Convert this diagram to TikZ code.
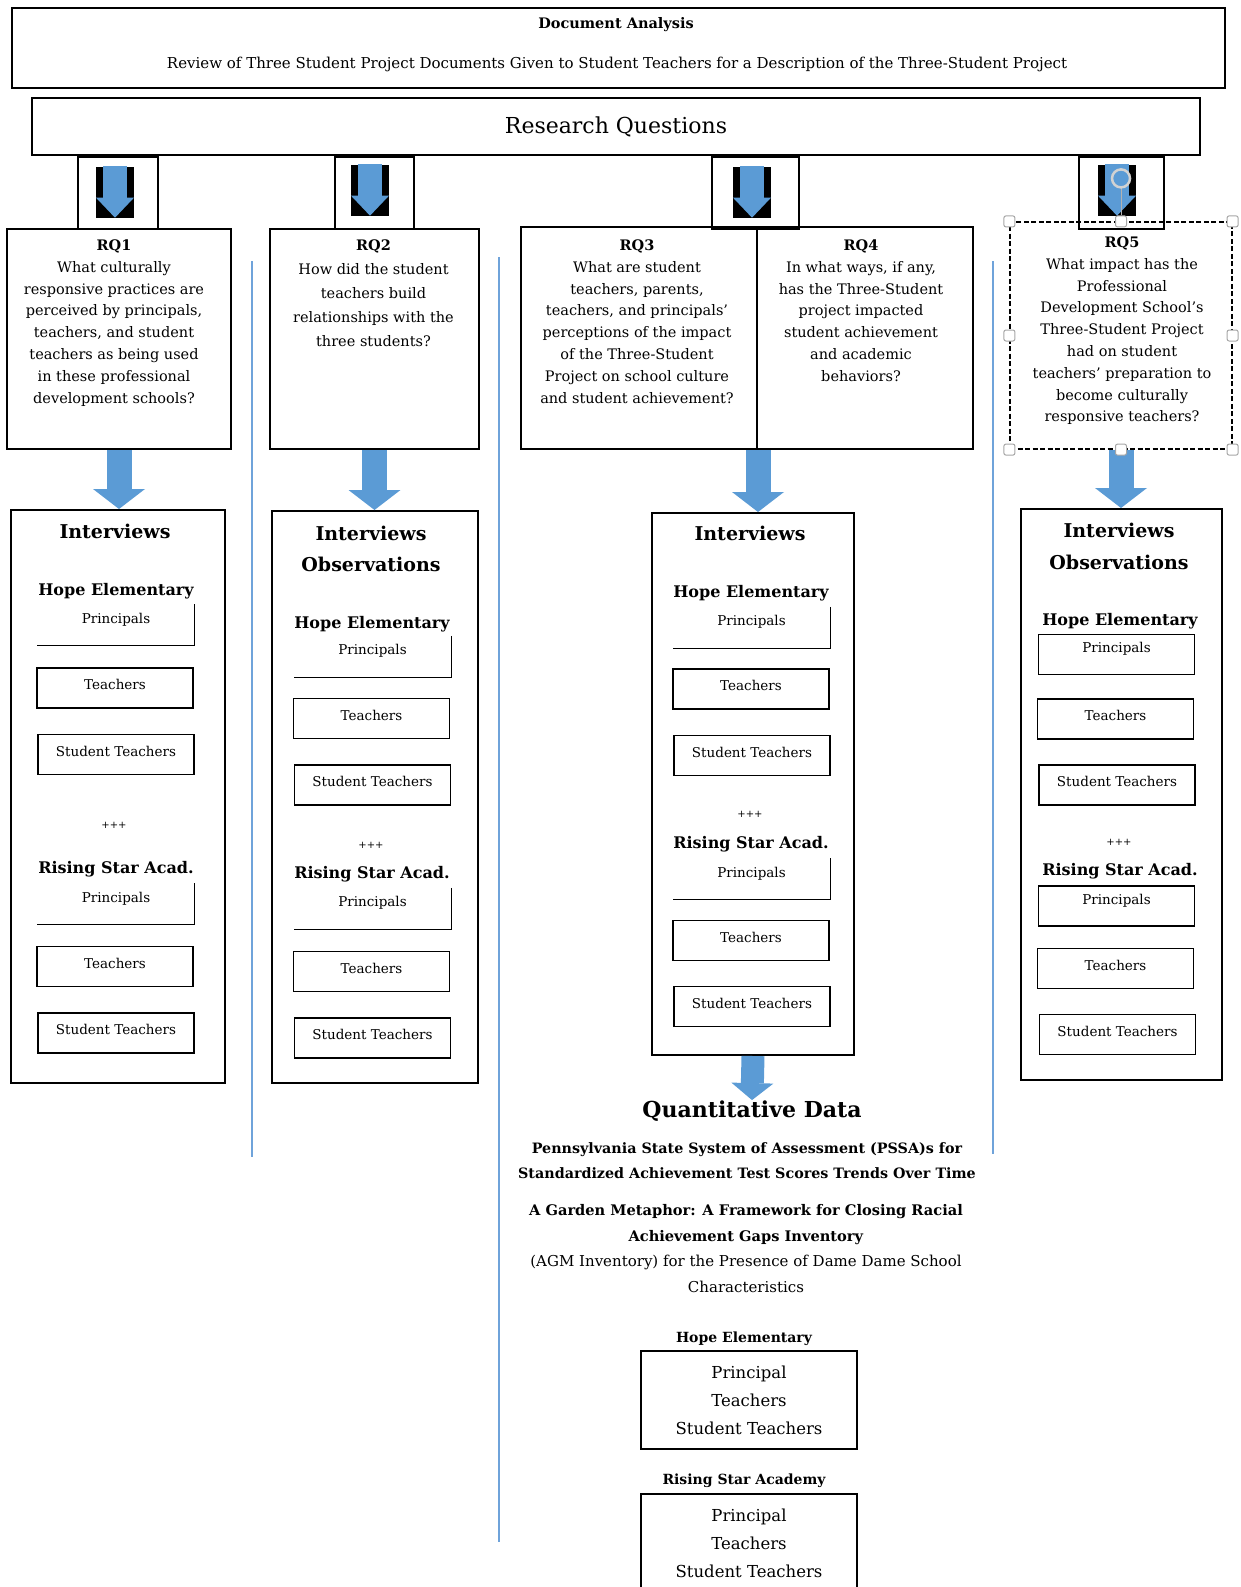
\documentclass[tikz,border=0pt]{standalone}
\usepackage{fontspec}
\setmainfont{DejaVu Serif}
\usetikzlibrary{arrows.meta, positioning, calc}
\definecolor{arrowblue}{HTML}{5B9BD5}
\definecolor{ruleblue}{HTML}{6FA3DA}

\begin{document}
\begin{tikzpicture}[
  x=1pt, y=-1pt,
  panel/.style = {draw, line width=2pt, inner sep=0pt},
  cell/.style = {draw, line width=1.4pt, minimum width=156pt, minimum height=40pt, inner sep=0pt,
    font=\fontsize{13.5}{15}\selectfont, text height=9pt, text depth=6pt},
  cellP/.style = {cell, text depth=13pt},
  cellhalf/.style = {cellP, draw=none},
  rqtext/.style = {align=center, inner sep=0pt, anchor=north, font=\fontsize{14.5}{21.8}\selectfont},
  heading/.style = {anchor=base, inner sep=0pt, font=\fontsize{19}{22}\selectfont\bfseries},
  school/.style = {anchor=base, inner sep=0pt, font=\fontsize{16}{19}\selectfont\bfseries},
  plus/.style = {anchor=base, inner sep=0pt, font=\fontsize{10}{12}\selectfont},
  fat/.style = {arrowblue, line width=25pt, -{Triangle[width=52pt, length=20pt, line width=0pt]}},
  fatsmall/.style = {arrowblue, line width=23pt, -{Triangle[width=42pt, length=17pt, line width=0pt]}},
  slim/.style = {arrowblue, line width=24pt, -{Triangle[width=38pt, length=20pt, line width=0pt]}},
  icon/.style = {fill=black, minimum width=38pt, minimum height=51pt, inner sep=0pt},
  grip/.style = {draw=gray!70, fill=white, rounded corners=2pt, minimum size=11pt, inner sep=0pt, line width=1pt},
  divider/.style = {ruleblue, line width=1.8pt}
  ]
  \useasboundingbox (0,0) rectangle (1241,1587);

  \node[panel, minimum width=1213pt, minimum height=80pt] (@doc) at (618.5,48) {};
  \node[anchor=base, inner sep=0pt, font=\fontsize{14.5}{17}\selectfont\bfseries] (@docT) at (616,29) {Document Analysis};
  \node[anchor=base, inner sep=0pt, font=\fontsize{15}{17}\selectfont] (@docR) at (617,68) {Review of Three Student Project Documents Given to Student Teachers for a Description of the Three-Student Project};

  \node[panel, minimum width=1168pt, minimum height=57pt, font=\fontsize{22}{26}\selectfont] (@rqs) at (616,126.5) {Research Questions};

  \node[panel, minimum width=80pt, minimum height=72pt] (@c1) at (118,193) {};
  \node[panel, minimum width=79pt, minimum height=72pt] (@c2) at (374.5,193) {};
  \node[panel, minimum width=87pt, minimum height=72pt] (@c3) at (755.5,193) {};
  \node[panel, minimum width=85pt, minimum height=72pt] (@c4) at (1121.5,193) {};
  \node[icon] (@i1) at (115,192) {};
  \node[icon] (@i2) at (370,190) {};
  \node[icon] (@i3) at (752,192) {};
  \node[icon] (@i4) at (1117,190) {};
  \draw[slim] (@i1.north) -- (@i1.south);
  \draw[slim] (@i2.north) -- (@i2.south);
  \draw[slim] (@i3.north) -- (@i3.south);
  \draw[slim] (@i4.north) -- (@i4.south);

  \node[panel, minimum width=224pt, minimum height=220pt] (@rq1) at (119,339) {};
  \node[panel, minimum width=209pt, minimum height=220pt] (@rq2) at (374.5,339) {};
  \node[panel, minimum width=236pt, minimum height=222pt] (@rq3) at (639,338) {};
  \node[panel, minimum width=216pt, minimum height=222pt] (@rq4) at (865,338) {};
  \node[panel, line width=1.2pt, dash pattern=on 5pt off 2.5pt, minimum width=222pt, minimum height=227pt] (@rq5) at (1121,335.5) {};

  \node[rqtext] (@q1) at (114,239.5) {\textbf{RQ1}\\What culturally\\responsive practices are\\perceived by principals,\\teachers, and student\\teachers as being used\\in these professional\\development schools?};
  \node[rqtext, font=\fontsize{14.5}{24}\selectfont] (@q2) at (373.5,239.5) {\textbf{RQ2}\\How did the student\\teachers build\\relationships with the\\three students?};
  \node[rqtext] (@q3) at (637,239.5) {\textbf{RQ3}\\What are student\\teachers, parents,\\teachers, and principals'\\perceptions of the impact\\of the Three-Student\\Project on school culture\\and student achievement?};
  \node[rqtext] (@q4) at (861,239.5) {\textbf{RQ4}\\In what ways, if any,\\has the Three-Student\\project impacted\\student achievement\\and academic\\behaviors?};
  \node[rqtext] (@q5) at (1122,236.5) {\textbf{RQ5}\\What impact has the\\Professional\\Development School's\\Three-Student Project\\had on student\\teachers' preparation to\\become culturally\\responsive teachers?};

  \node[panel, minimum width=214pt, minimum height=573pt] (@int1) at (118,796.5) {};
  \node[panel, minimum width=206pt, minimum height=572pt] (@int2) at (375,797) {};
  \node[panel, minimum width=202pt, minimum height=542pt] (@int3) at (753,784) {};
  \node[panel, minimum width=201pt, minimum height=571pt] (@int4) at (1121.5,794.5) {};

  \draw[fat] (@rq1.south) -- (@rq1.south |- @int1.north);
  \draw[fat] (@rq2.south) -- (@rq2.south |- @int2.north);
  \draw[fat] (@rq3.south east) -- (@rq3.south east |- @int3.north);
  \draw[fat] (@rq5.south) -- (@rq5.south |- @int4.north);

  \node[heading] (@h1) at (115,538) {Interviews};
  \node[school] (@hope1) at (116,595) {Hope Elementary};
  \node[cellhalf] (@p1) at (116,625) {Principals};
  \draw[line width=1.4pt] (@p1.north east) |- (@p1.south west);
  \node[cell] (@t1) at (115,688) {Teachers};
  \node[cell] (@s1) at (116,754.5) {Student Teachers};
  \node[plus] (@x1) at (114,828) {+++};
  \node[school] (@star1) at (116,873) {Rising Star Acad.};
  \node[cellhalf] (@p1b) at (116,904) {Principals};
  \draw[line width=1.4pt] (@p1b.north east) |- (@p1b.south west);
  \node[cell] (@t1b) at (115,966.5) {Teachers};
  \node[cell] (@s1b) at (116,1033) {Student Teachers};

  \node[heading] (@h2) at (371,540) {Interviews};
  \node[heading] (@o2) at (371,571) {Observations};
  \node[school] (@hope2) at (372,628) {Hope Elementary};
  \node[cellhalf] (@p2) at (372.5,656.5) {Principals};
  \draw[line width=1.4pt] (@p2.north east) |- (@p2.south west);
  \node[cell] (@t2) at (371.5,718.5) {Teachers};
  \node[cell] (@s2) at (372.5,785) {Student Teachers};
  \node[plus] (@x2) at (371,848) {+++};
  \node[school] (@star2) at (372,878) {Rising Star Acad.};
  \node[cellhalf] (@p2b) at (372.5,908.5) {Principals};
  \draw[line width=1.4pt] (@p2b.north east) |- (@p2b.south west);
  \node[cell] (@t2b) at (371.5,971.5) {Teachers};
  \node[cell] (@s2b) at (372.5,1038) {Student Teachers};

  \node[heading] (@h3) at (750,540) {Interviews};
  \node[school] (@hope3) at (751,597) {Hope Elementary};
  \node[cellhalf] (@p3) at (751.5,627.5) {Principals};
  \draw[line width=1.4pt] (@p3.north east) |- (@p3.south west);
  \node[cell] (@t3) at (751,689) {Teachers};
  \node[cell] (@s3) at (752,755.5) {Student Teachers};
  \node[plus] (@x3) at (750,817) {+++};
  \node[school] (@star3) at (751,848) {Rising Star Acad.};
  \node[cellhalf] (@p3b) at (751.5,879) {Principals};
  \draw[line width=1.4pt] (@p3b.north east) |- (@p3b.south west);
  \node[cell] (@t3b) at (751,940.5) {Teachers};
  \node[cell] (@s3b) at (752,1006.5) {Student Teachers};

  \node[heading] (@h4) at (1119,537) {Interviews};
  \node[heading] (@o4) at (1119,569) {Observations};
  \node[school] (@hope4) at (1120,625) {Hope Elementary};
  \node[cellP] (@p4) at (1116.5,654.5) {Principals};
  \node[cell] (@t4) at (1115.5,719) {Teachers};
  \node[cell] (@s4) at (1117,785) {Student Teachers};
  \node[plus] (@x4) at (1119,845) {+++};
  \node[school] (@star4) at (1120,875) {Rising Star Acad.};
  \node[cellP] (@p4b) at (1116.5,906) {Principals};
  \node[cell] (@t4b) at (1115.5,968.5) {Teachers};
  \node[cell] (@s4b) at (1117.5,1034.5) {Student Teachers};

  \node[anchor=base, inner sep=0pt, font=\fontsize{22}{26}\selectfont\bfseries] (@quant) at (752,1117) {Quantitative Data};
  \draw[fatsmall] (@int3.south) -- (@quant.north);
  \node[anchor=north, align=center, inner sep=0pt, font=\fontsize{14.3}{25}\selectfont\bfseries] (@pssa) at (747,1142.5) {Pennsylvania State System of Assessment (PSSA)s for\\Standardized Achievement Test Scores Trends Over Time};
  \node[anchor=north, align=center, inner sep=0pt, font=\fontsize{15}{25.5}\selectfont] (@agm) at (746,1204.5) {\textbf{\fontsize{14.6}{25.5}\selectfont A Garden Metaphor: A Framework for Closing Racial}\\\textbf{\fontsize{14.6}{25.5}\selectfont Achievement Gaps Inventory}\\(AGM Inventory) for the Presence of Dame Dame School\\Characteristics};

  \node[school, font=\fontsize{14}{17}\selectfont\bfseries] (@hopeq) at (744,1342) {Hope Elementary};
  \node[panel, minimum width=216pt, minimum height=98pt, align=center, font=\fontsize{16.5}{28}\selectfont] (@hopebox) at (749,1400) {Principal\\Teachers\\Student Teachers};
  \node[school, font=\fontsize{14}{17}\selectfont\bfseries] (@starq) at (744,1484) {Rising Star Academy};
  \node[panel, minimum width=216pt, minimum height=98pt, align=center, font=\fontsize{16.5}{28}\selectfont] (@starbox) at (749,1543) {Principal\\Teachers\\Student Teachers};

  \draw[divider] (252,261) -- (252,1157);
  \draw[divider] (499,257) -- (499,1542);
  \draw[divider] (993,261) -- (993,1154);

  \foreach \a [count=\k] in {north west,north,north east,east,south east,south,south west,west}
    \node[grip] (@g\k) at (@rq5.\a) {};
  \coordinate (@rot) at ($(@g2)+(0,-43)$);
  \draw[gray!60, line width=1pt] (@rot) ++(0,9) -- (@g2.north);
  \draw[gray!35, line width=2.5pt] (@rot) circle[radius=9pt];
\end{tikzpicture}
\end{document}
